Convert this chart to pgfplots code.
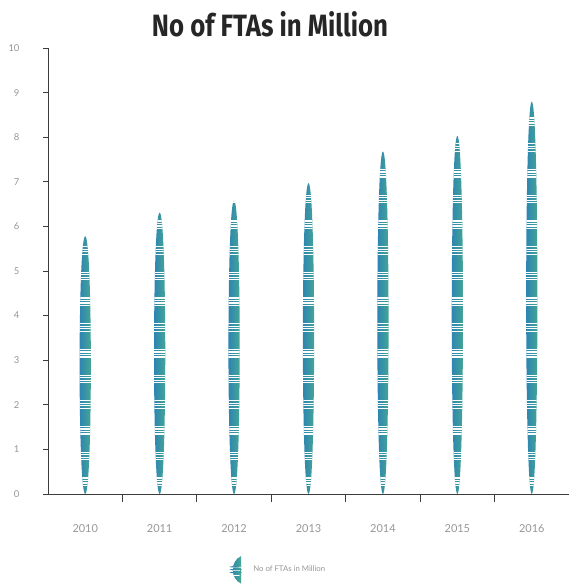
\documentclass[border=0pt]{standalone}
\usepackage{graphicx}
\usepackage{pgfplots}
\pgfplotsset{compat=1.18}
\usepackage{fontspec}
\setmainfont{Lato}
\newfontfamily\titlefont{Fira Sans}
\definecolor{leafblue}{RGB}{42,128,182}
\definecolor{leafgreen}{RGB}{72,170,145}
\definecolor{lbl}{RGB}{150,150,150}
\definecolor{axc}{RGB}{60,60,60}
\tikzset{
  leaf/.style={draw=none, fill=none,
    path picture={
      \path[path picture={}, clip] (path picture bounding box.south) .. controls (path picture bounding box.south west) and (path picture bounding box.north west) .. (path picture bounding box.north) .. controls (path picture bounding box.north east) and (path picture bounding box.south east) .. cycle;
      \shade[path picture={}, left color=leafblue, right color=leafgreen] (path picture bounding box.south west) rectangle (path picture bounding box.north east);
      \draw[path picture={}, white, line width=20bp, dash pattern=on 0bp off 8bp on 1.2bp off 1.3bp on 1.2bp off 1.3bp on 1.2bp off 1.3bp on 1.2bp off 9bp] (path picture bounding box.south) -- (path picture bounding box.north);
    }},
}
\begin{document}
\begin{tikzpicture}
\begin{axis}[
  scale only axis, width=521bp, height=446bp,
  xmin=-0.5, xmax=6.5, ymin=0, ymax=10,
  axis x line*=bottom, axis y line*=left,
  axis line style={axc, line width=0.8bp},
  ytick={0,...,10},
  xtick={0,...,6},
  xticklabels={2010,2011,2012,2013,2014,2015,2016},
  minor x tick num=1,
  major x tick style={draw=none},
  minor x tick style={axc, line width=0.8bp},
  y tick style={axc, line width=0.8bp},
  tick align=outside,
  major tick length=5bp,
  minor tick length=8bp,
  /pgf/number format/assume math mode=true,
  yticklabel style={font=\fontsize{9.5}{11}\selectfont, text=lbl, xshift=-20bp},
  xticklabel style={font=\fontsize{11}{13}\selectfont, text=lbl, yshift=-22bp},
  ybar, bar width=15bp, bar shift=0pt,
  legend style={at={(axis description cs:0.44,-0.17)}, anchor=center, draw=none,
    font=\fontsize{7.8}{9}\selectfont, text=lbl},
  legend image code/.code={
    \shade[left color=leafblue, right color=leafgreen] (0.39cm,-0.49cm) .. controls (0cm,-0.3cm) and (0cm,0.3cm) .. (0.39cm,0.49cm) -- cycle;
    \fill[white] (-0.1cm,-0.12cm) rectangle (0.5cm,-0.07cm);
    \fill[white] (-0.1cm,-0.02cm) rectangle (0.5cm,0.03cm);
    \fill[white] (-0.1cm,0.08cm) rectangle (0.5cm,0.13cm);
  },
]
\addplot[leaf] coordinates {(0,5.78)};
\addlegendentry{\hspace{7bp}No of FTAs in Million}
\addplot[leaf, forget plot] coordinates {(1,6.31)};
\addplot[leaf, forget plot] coordinates {(2,6.58)};
\addplot[leaf, forget plot] coordinates {(3,6.97)};
\addplot[leaf, forget plot] coordinates {(4,7.68)};
\addplot[leaf, forget plot] coordinates {(5,8.03)};
\addplot[leaf, forget plot] coordinates {(6,8.80)};
\end{axis}
\node[text=black!85] at (222bp,469.5bp) {\resizebox{236bp}{25bp}{\titlefont\bfseries No of FTAs in Million}};
\path[use as bounding box] (-48bp,-94bp) rectangle (521bp,494bp);
\end{tikzpicture}
\end{document}
